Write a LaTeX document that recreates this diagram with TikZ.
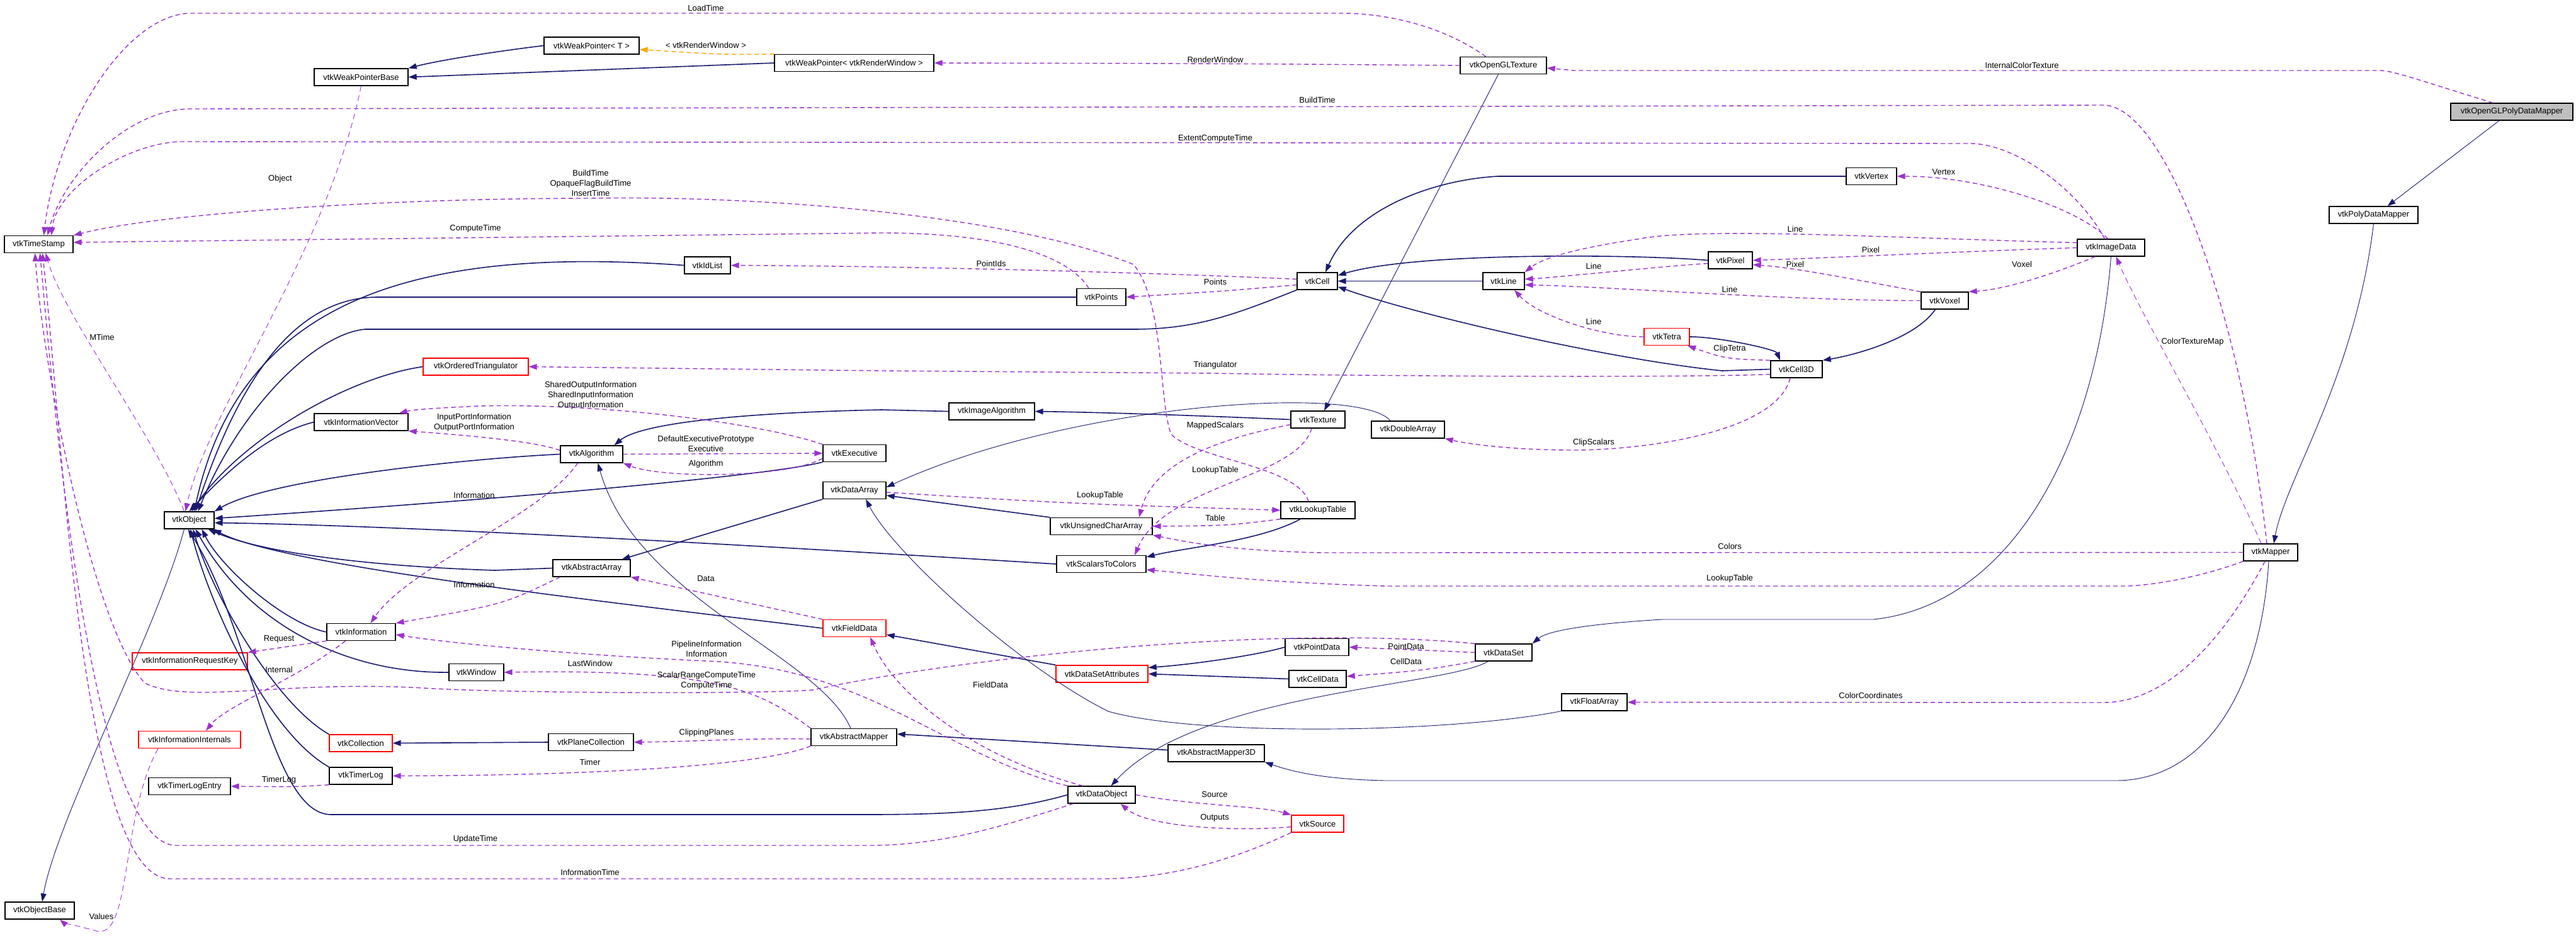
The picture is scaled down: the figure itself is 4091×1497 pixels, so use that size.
\documentclass[tikz,border=0pt]{standalone}
\usepackage{fontspec}
\setmainfont{Liberation Sans}
\usetikzlibrary{arrows.meta}
\definecolor{navy}{HTML}{191970}
\definecolor{purp}{HTML}{9A32CD}
\definecolor{orng}{HTML}{FFA500}
\begin{document}
\begin{tikzpicture}[x=1pt,y=-1pt,
  font=\fontsize{13}{15}\selectfont,
  box/.style={draw=black,line width=1.3pt,fill=white,inner sep=0pt,minimum height=27pt},
  rbox/.style={box,draw=red},
  gbox/.style={box,fill=black!25},
  inh/.style={draw=navy,line width=1.6pt,-{Triangle[length=13pt,width=9pt]}},
  inht/.style={inh,line width=0.9pt},
  use/.style={draw=purp,line width=1.4pt,dash pattern=on 7pt off 5pt,-{Triangle[length=13pt,width=9pt]}},
  uset/.style={use,line width=0.9pt,dash pattern=on 9pt off 6pt},
  tpl/.style={use,draw=orng},
  lbl/.style={inner sep=0pt,align=center,font=\fontsize{13}{16}\selectfont}]
\useasboundingbox (0,0) rectangle (4091,1497);
% ---------- nodes ----------
\node[gbox,minimum width=194pt] (oglpdm) at (3989,177.5) {vtkOpenGLPolyDataMapper};
\node[box,minimum width=141pt] (pdm) at (3769.5,341.5) {vtkPolyDataMapper};
\node[box,minimum width=151pt] (wpT) at (939.5,72.5) {vtkWeakPointer< T >};
\node[box,minimum width=253pt] (wpRW) at (1356.5,100) {vtkWeakPointer< vtkRenderWindow >};
\node[box,minimum width=149pt] (wpb) at (573.5,122.5) {vtkWeakPointerBase};
\node[box,minimum width=137pt] (ogltex) at (2387.5,104) {vtkOpenGLTexture};
\node[box,minimum width=109pt] (ts) at (61.5,388) {vtkTimeStamp};
\node[box,minimum width=73pt] (idlist) at (1123.5,421.5) {vtkIdList};
\node[box,minimum width=80pt] (vertex) at (2972,280) {vtkVertex};
\node[box,minimum width=64pt] (cell) at (2092,446.5) {vtkCell};
\node[box,minimum width=66pt] (line) at (2388,446.5) {vtkLine};
\node[box,minimum width=70pt] (pixel) at (2748,413.5) {vtkPixel};
\node[box,minimum width=78pt] (points) at (1749,472) {vtkPoints};
\node[box,minimum width=107pt] (imagedata) at (3352.5,393.5) {vtkImageData};
\node[box,minimum width=75pt] (voxel) at (3088.5,477.5) {vtkVoxel};
\node[rbox,minimum width=72pt] (tetra) at (2647,535) {vtkTetra};
\node[box,minimum width=82pt] (cell3d) at (2853,586.5) {vtkCell3D};
\node[rbox,minimum width=167pt] (ordtri) at (755.5,582.5) {vtkOrderedTriangulator};
\node[box,minimum width=149pt] (infovec) at (573.5,670.5) {vtkInformationVector};
\node[box,minimum width=99pt] (algorithm) at (939.5,721.5) {vtkAlgorithm};
\node[box,minimum width=100pt] (executive) at (1357,720) {vtkExecutive};
\node[box,minimum width=100pt] (dataarray) at (1357,779) {vtkDataArray};
\node[box,minimum width=79pt] (object) at (300.5,826.5) {vtkObject};
\node[box,minimum width=123pt] (abstractarray) at (939.5,902.5) {vtkAbstractArray};
\node[rbox,minimum width=100pt] (fielddata) at (1357,998) {vtkFieldData};
\node[box,minimum width=109pt] (information) at (573.5,1004) {vtkInformation};
\node[box,minimum width=136pt] (imagealg) at (1575,653.5) {vtkImageAlgorithm};
\node[box,minimum width=86pt] (texture) at (2093,666.5) {vtkTexture};
\node[box,minimum width=116pt] (doublearray) at (2236,682.5) {vtkDoubleArray};
\node[box,minimum width=118pt] (lookuptable) at (2093,810.5) {vtkLookupTable};
\node[box,minimum width=162pt] (uchararray) at (1749,836) {vtkUnsignedCharArray};
\node[box,minimum width=142pt] (s2c) at (1749,896) {vtkScalarsToColors};
\node[box,minimum width=86pt] (mapper) at (3606,877.5) {vtkMapper};
\node[box,minimum width=90pt] (dataset) at (2388,1036.5) {vtkDataSet};
\node[box,minimum width=104pt] (floatarray) at (2532,1115.5) {vtkFloatArray};
\node[rbox,minimum width=183pt] (inforeqkey) at (301.5,1050.5) {vtkInformationRequestKey};
\node[box,minimum width=87pt] (window) at (756.5,1068) {vtkWindow};
\node[rbox,minimum width=146pt] (dsattr) at (1750,1070.5) {vtkDataSetAttributes};
\node[box,minimum width=101pt] (pointdata) at (2091.5,1028) {vtkPointData};
\node[box,minimum width=91pt] (celldata) at (2092.5,1078.5) {vtkCellData};
\node[rbox,minimum width=162pt] (infointernals) at (301,1175) {vtkInformationInternals};
\node[rbox,minimum width=100pt] (collection) at (573,1180.5) {vtkCollection};
\node[box,minimum width=135pt] (planecoll) at (938.5,1179) {vtkPlaneCollection};
\node[box,minimum width=136pt] (abstractmapper) at (1356,1171) {vtkAbstractMapper};
\node[box,minimum width=153pt] (am3d) at (1931.5,1196.5) {vtkAbstractMapper3D};
\node[box,minimum width=100pt] (timerlog) at (573,1232.5) {vtkTimerLog};
\node[box,minimum width=130pt] (timerlogentry) at (301,1249) {vtkTimerLogEntry};
\node[box,minimum width=107pt] (dataobject) at (1749.5,1262.5) {vtkDataObject};
\node[rbox,minimum width=83pt] (source) at (2092.5,1308.5) {vtkSource};
\node[box,minimum width=110pt] (objectbase) at (63,1446.5) {vtkObjectBase};
% ---------- inheritance (solid) ----------
\draw[inh] (wpT.west) .. controls (800,80) and (700,95) .. (wpb.north east);
\draw[inh] (wpRW.west) -- (wpb.east);
\draw[inht] ([xshift=-20pt]oglpdm.south) -- ([xshift=22pt]pdm.north);
\draw[inht] (pdm.south) .. controls (3740,600) and (3630,760) .. ([xshift=5pt]mapper.north);
\draw[inht] ([xshift=-8pt]ogltex.south) -- ([xshift=10pt]texture.north);
\draw[inh] (idlist.west) .. controls (650,390) and (380,480) .. ([xshift=8pt]object.north);
\draw[inh] (points.west) -- (600,472) .. controls (470,472) and (380,600) .. ([xshift=10pt]object.north);
\draw[inh] (cell.south west) .. controls (1960,500) and (1900,523) .. (1800,523) -- (580,523) .. controls (500,530) and (380,650) .. ([xshift=14pt]object.north);
\draw[inh] (vertex.west) -- (2380,280) .. controls (2280,285) and (2150,330) .. ([xshift=13pt]cell.north);
\draw[inh] (pixel.west) .. controls (2600,404) and (2250,400) .. ([yshift=9pt]cell.east);
\draw[inh] (line.west) -- (cell.east);
\draw[inh] (cell3d.west) -- (2735,589) .. controls (2550,570) and (2250,500) .. ([yshift=-9pt]cell.east);
\draw[inh] (tetra.east) .. controls (2730,535) and (2820,555) .. ([xshift=-26pt]cell3d.north);
\draw[inh] ([xshift=-15pt]voxel.south) .. controls (3040,540) and (2940,565) .. (cell3d.north east);
\draw[inh] (ordtri.west) .. controls (550,600) and (380,700) .. ([xshift=4pt]object.north);
\draw[inh] (infovec.west) .. controls (420,690) and (350,760) .. (object.north);
\draw[inh] (algorithm.west) .. controls (750,728) and (430,760) .. (object.north east);
\draw[inh] (executive.south west) .. controls (1200,760) and (700,800) .. ([yshift=3pt]object.east);
\draw[inh] (imagealg.west) -- (1400,651) .. controls (1200,655) and (1020,670) .. ([xshift=36pt]algorithm.north);
\draw[inh] (texture.west) .. controls (1900,660) and (1750,655) .. (imagealg.east);
\draw[inht] ([xshift=-28pt]doublearray.north) .. controls (2160,610) and (1700,640) .. ([yshift=5pt]dataarray.east);
\draw[inh] (dataarray.south west) -- ([xshift=-14pt]abstractarray.north east);
\draw[inh] (abstractarray.west) -- (786,906) .. controls (600,900) and (420,880) .. ([xshift=-10pt]object.south east);
\draw[inh] (uchararray.north west) -- ([yshift=-8pt]dataarray.east);
\draw[inh] (s2c.west) .. controls (1500,885) and (700,835) .. ([yshift=-4pt]object.east);
\draw[inh] ([xshift=-28pt]lookuptable.south) .. controls (2000,860) and (1880,870) .. ([yshift=11pt]s2c.east);
\draw[inh] (fielddata.west) .. controls (1000,960) and (450,900) .. ([xshift=-2pt]object.south east);
\draw[inht] ([xshift=-5pt]abstractmapper.north) .. controls (1300,1040) and (1010,950) .. ([xshift=10pt]algorithm.south);
\draw[inh] ([yshift=5pt]am3d.west) -- ([yshift=5pt]abstractmapper.east);
\draw[inht] ([xshift=-3pt]mapper.south) .. controls (3590,1100) and (3500,1240) .. (3360,1240) -- (2200,1240) .. controls (2100,1238) and (2050,1225) .. (am3d.south east);
\draw[inht] ([xshift=-25pt]dataset.south) .. controls (2300,1090) and (1900,1100) .. ([xshift=15pt]dataobject.north);
\draw[inht] (imagedata.south) .. controls (3330,700) and (3200,960) .. (2975,984) -- (2640,984) .. controls (2540,990) and (2460,1000) .. (dataset.north east);
\draw[inh] (dsattr.north west) -- ([yshift=4pt]fielddata.south east);
\draw[inh] (pointdata.west) .. controls (2000,1040) and (1900,1055) .. ([yshift=10pt]dsattr.east);
\draw[inh] (celldata.west) -- (dsattr.east);
\draw[inht] (floatarray.south west) .. controls (2300,1165) and (1900,1170) .. (1760,1130) .. controls (1620,1060) and (1420,880) .. ([xshift=18pt]dataarray.south);
\draw[inh] (information.west) .. controls (450,990) and (350,900) .. ([xshift=20pt]object.south);
\draw[inh] (window.west) .. controls (560,1070) and (400,1000) .. ([xshift=10pt]object.south);
\draw[inh] (collection.north west) .. controls (440,1120) and (340,950) .. ([xshift=6pt]object.south);
\draw[inh] (timerlog.north west) .. controls (420,1160) and (330,950) .. ([xshift=2pt]object.south);
\draw[inh] (dataobject.west) .. controls (1600,1290) and (1500,1294) .. (1375,1294) -- (526,1294) .. controls (430,1294) and (400,1000) .. ([xshift=-2pt]object.south);
\draw[inht] ([xshift=-8pt]object.south) .. controls (250,1000) and (90,1300) .. ([xshift=4pt]objectbase.north);
\draw[inh] (planecoll.west) -- (collection.east);
% ---------- usage (dashed) ----------
\draw[use] ([xshift=-28pt]ogltex.north) .. controls (2290,40) and (2200,21) .. (2130,21) -- (304,21) .. controls (200,21) and (90,200) .. ([xshift=8pt]ts.north);
\node[lbl] (l1) at (1121,13) {LoadTime};
\draw[tpl] (wpRW.north west) .. controls (1150,87) .. ([yshift=-6pt]wpT.east);
\node[lbl] (l2) at (1121,72) {< vtkRenderWindow >};
\draw[use] (ogltex.west) .. controls (1950,101) .. (wpRW.east);
\node[lbl] (l3) at (1930,95) {RenderWindow};
\draw[use] ([xshift=-30pt]oglpdm.north) .. controls (3850,130) and (3800,112) .. (3780,112) -- (2500,112) -- ([yshift=-4pt]ogltex.east);
\node[lbl] (l4) at (3211,104) {InternalColorTexture};
\draw[use] ([xshift=-6pt]mapper.north) .. controls (3560,500) and (3440,167) .. (3340,167) -- (300,173) .. controls (200,175) and (100,280) .. ([xshift=14pt]ts.north);
\node[lbl] (l5) at (2092,159) {BuildTime};
\draw[use] ([xshift=-10pt]imagedata.north) .. controls (3300,300) and (3200,228) .. (3129,228) -- (286,225) .. controls (200,228) and (90,300) .. ([xshift=20pt]ts.north);
\node[lbl] (l6) at (1930,220) {ExtentComputeTime};
\draw[uset] (wpb.south) .. controls (520,400) and (330,650) .. ([xshift=-6pt]object.north);
\node[lbl] (l7) at (445,284) {Object};
\draw[use] ([xshift=-15pt]lookuptable.north) .. controls (2060,740) and (1900,730) .. (1860,690) .. controls (1840,640) and (1850,480) .. (1800,420) .. controls (1600,340) and (1200,310) .. (938,315) .. controls (600,315) and (250,340) .. (ts.north east);
\node[lbl] (l8) at (938,291) {BuildTime\\OpaqueFlagBuildTime\\InsertTime};
\draw[use] ([xshift=-20pt]points.north) .. controls (1700,410) and (1600,370) .. (1400,370) -- ([yshift=3pt]ts.east);
\node[lbl] (l9) at (755,363) {ComputeTime};
\draw[use] ([yshift=3pt]cell.west) .. controls (1900,436) and (1500,423) .. (idlist.east);
\node[lbl] (l10) at (1574,419) {PointIds};
\draw[use] ([yshift=-6pt]cell.west) .. controls (1950,462) .. (points.east);
\node[lbl] (l11) at (1930,448) {Points};
\draw[use] ([xshift=-5pt]imagedata.north) .. controls (3300,330) and (3150,280) .. (vertex.east);
\node[lbl] (l12) at (3087,273) {Vertex};
\draw[use] ([yshift=8pt]imagedata.west) .. controls (3000,378) and (2700,360) .. (2600,380) .. controls (2500,395) and (2450,410) .. (line.north east);
\node[lbl] (l13) at (2851,364) {Line};
\draw[use] (imagedata.west) .. controls (3100,400) and (2900,410) .. (pixel.east);
\node[lbl] (l14) at (2971,397) {Pixel};
\draw[use] ([xshift=-25pt]imagedata.south) .. controls (3250,440) and (3180,460) .. (voxel.north east);
\node[lbl] (l15) at (3211,420) {Voxel};
\draw[use] ([yshift=-5pt]pixel.west) .. controls (2650,422) and (2480,440) .. ([yshift=3pt]line.east);
\node[lbl] (l16) at (2531,423) {Line};
\draw[use] (voxel.north west) .. controls (2950,445) and (2850,425) .. ([yshift=-7pt]pixel.east);
\node[lbl] (l17) at (2851,420) {Pixel};
\draw[use] (voxel.west) .. controls (2850,478) and (2550,455) .. ([yshift=-6pt]line.east);
\node[lbl] (l18) at (2747,460) {Line};
\draw[use] (tetra.west) .. controls (2540,535) and (2440,500) .. ([xshift=17pt]line.south);
\node[lbl] (l19) at (2531,511) {Line};
\draw[use] (cell3d.north west) .. controls (2740,570) .. ([xshift=33pt]tetra.south);
\node[lbl] (l20) at (2747,554) {ClipTetra};
\draw[use] ([yshift=-8pt]cell3d.west) .. controls (2700,600) and (2200,598) .. (1930,593) -- (1400,589) -- (ordtri.east);
\node[lbl] (l21) at (1930,580) {Triangulator};
\draw[use] ([xshift=-10pt]cell3d.south) .. controls (2820,690) and (2600,715) .. (2500,715) .. controls (2400,715) and (2330,705) .. (doublearray.south east);
\node[lbl] (l22) at (2531,703) {ClipScalars};
\draw[uset] ([xshift=-15pt]mapper.north) .. controls (3530,720) and (3400,500) .. ([xshift=8pt]imagedata.south);
\node[lbl] (l23) at (3482,543) {ColorTextureMap};
\draw[use] (executive.north west) .. controls (1200,670) and (950,640) .. (760,645) .. controls (700,648) and (660,650) .. ([xshift=-15pt]infovec.north east);
\node[lbl] (l24) at (938,628) {SharedOutputInformation\\SharedInputInformation\\OutputInformation};
\draw[use] ([yshift=6pt]algorithm.west) .. controls (850,700) and (720,690) .. (infovec.south east);
\node[lbl] (l25) at (753,671) {InputPortInformation\\OutputPortInformation};
\draw[use] (algorithm.east) -- (executive.west);
\node[lbl] (l26) at (1121,705) {DefaultExecutivePrototype\\Executive};
\draw[use] ([yshift=6pt]executive.south west) .. controls (1250,760) and (1050,760) .. (algorithm.south east);
\node[lbl] (l27) at (1121,737) {Algorithm};
\draw[use] ([xshift=-22pt]algorithm.south) .. controls (860,820) and (650,900) .. ([xshift=15pt]information.north);
\node[lbl] (l28) at (753,787) {Information};
\draw[use] ([xshift=12pt]abstractarray.south west) .. controls (800,960) .. (information.north east);
\node[lbl] (l29) at (753,929) {Information};
\draw[use] (fielddata.north west) -- (abstractarray.south east);
\node[lbl] (l30) at (1121,919) {Data};
\draw[use] ([yshift=-8pt]texture.west) .. controls (1920,700) and (1830,740) .. ([xshift=60pt]uchararray.north);
\node[lbl] (l31) at (1930,676) {MappedScalars};
\draw[use] ([xshift=-10pt]texture.south) .. controls (2060,760) and (1850,770) .. ([xshift=53pt]s2c.north);
\node[lbl] (l32) at (1930,747) {LookupTable};
\draw[use] ([yshift=-3pt]dataarray.east) .. controls (1700,800) .. (lookuptable.west);
\node[lbl] (l33) at (1747,787) {LookupTable};
\draw[use] (lookuptable.south west) .. controls (1950,835) .. (uchararray.east);
\node[lbl] (l34) at (1930,823) {Table};
\draw[use] (mapper.west) -- (2100,878) .. controls (1950,875) and (1880,860) .. (uchararray.south east);
\node[lbl] (l35) at (2747,868) {Colors};
\draw[use] (mapper.south west) .. controls (3500,915) and (3420,931) .. (3370,931) -- (2200,931) .. controls (2000,925) and (1900,912) .. ([yshift=-9pt]s2c.east);
\node[lbl] (l36) at (2747,919) {LookupTable};
\draw[uset] ([xshift=-8pt]object.north) .. controls (250,700) and (100,500) .. ([xshift=11pt]ts.south);
\node[lbl] (l37) at (162,536) {MTime};
\draw[use] (information.south west) -- (inforeqkey.north east);
\node[lbl] (l38) at (443,1015) {Request};
\draw[use] ([xshift=-25pt]information.south) .. controls (470,1080) and (360,1120) .. ([xshift=26pt]infointernals.north);
\node[lbl] (l39) at (443,1064) {Internal};
\draw[use] (dataobject.north west) .. controls (1500,1200) and (1380,1060) .. (1122,1050) .. controls (900,1040) and (700,1020) .. ([yshift=-4pt]information.east);
\node[lbl] (l40) at (1122,1031) {PipelineInformation\\Information};
\draw[use] (abstractmapper.north west) .. controls (1210,1100) and (1150,1062) .. (window.east);
\node[lbl] (l41) at (937,1054) {LastWindow};
\draw[use] (dataset.north west) .. controls (2000,990) and (1500,1050) .. (1291,1096) .. controls (1200,1103) and (800,1101) .. (673,1093) .. controls (450,1080) and (300,1120) .. (230,1085) .. controls (150,1000) and (70,600) .. ([xshift=-6pt]ts.south);
\node[lbl] (l42) at (1122,1081) {ScalarRangeComputeTime\\ComputeTime};
\draw[use] ([xshift=-30pt]dataobject.north) .. controls (1540,1200) and (1420,1100) .. ([xshift=25pt]fielddata.south);
\node[lbl] (l43) at (1573,1088) {FieldData};
\draw[use] (dataset.west) -- (pointdata.east);
\node[lbl] (l44) at (2233,1027) {PointData};
\draw[use] (dataset.south west) .. controls (2260,1065) .. ([yshift=4pt]celldata.east);
\node[lbl] (l45) at (2233,1051) {CellData};
\draw[use] ([yshift=-3pt]abstractmapper.west) .. controls (1200,1172) and (1100,1178) .. (planecoll.east);
\node[lbl] (l46) at (1122,1164) {ClippingPlanes};
\draw[use] (abstractmapper.south west) .. controls (1200,1220) and (900,1232) .. (timerlog.east);
\node[lbl] (l47) at (937,1211) {Timer};
\draw[use] (timerlog.south west) .. controls (470,1250) .. (timerlogentry.east);
\node[lbl] (l48) at (443,1239) {TimerLog};
\draw[use] (dataobject.east) .. controls (1900,1280) and (2000,1280) .. (source.north west);
\node[lbl] (l49) at (1929,1262) {Source};
\draw[use] ([yshift=-5pt]source.west) .. controls (1964,1321) and (1824,1315) .. ([xshift=30pt]dataobject.south);
\node[lbl] (l50) at (1929,1299) {Outputs};
\draw[use] ([xshift=-45pt]dataobject.south) .. controls (1600,1310) and (1500,1343) .. (1380,1343) -- (280,1343) .. controls (150,1343) and (90,700) .. ([xshift=2pt]ts.south);
\node[lbl] (l51) at (755,1333) {UpdateTime};
\draw[use] (source.south west) .. controls (1950,1370) and (1850,1396) .. (1750,1396) -- (270,1396) .. controls (130,1396) and (100,700) .. ([xshift=6pt]ts.south);
\node[lbl] (l52) at (937,1386) {InformationTime};
\draw[uset] ([xshift=-50pt]infointernals.south) .. controls (190,1300) and (210,1500) .. (150,1478) .. controls (120,1470) and (100,1465) .. ([xshift=32pt]objectbase.south);
\node[lbl] (l53) at (161,1456) {Values};
\draw[use] ([xshift=-9pt]mapper.south) .. controls (3540,1000) and (3450,1116) .. (3340,1116) -- (floatarray.east);
\node[lbl] (l54) at (2971,1105) {ColorCoordinates};
\end{tikzpicture}
\end{document}
